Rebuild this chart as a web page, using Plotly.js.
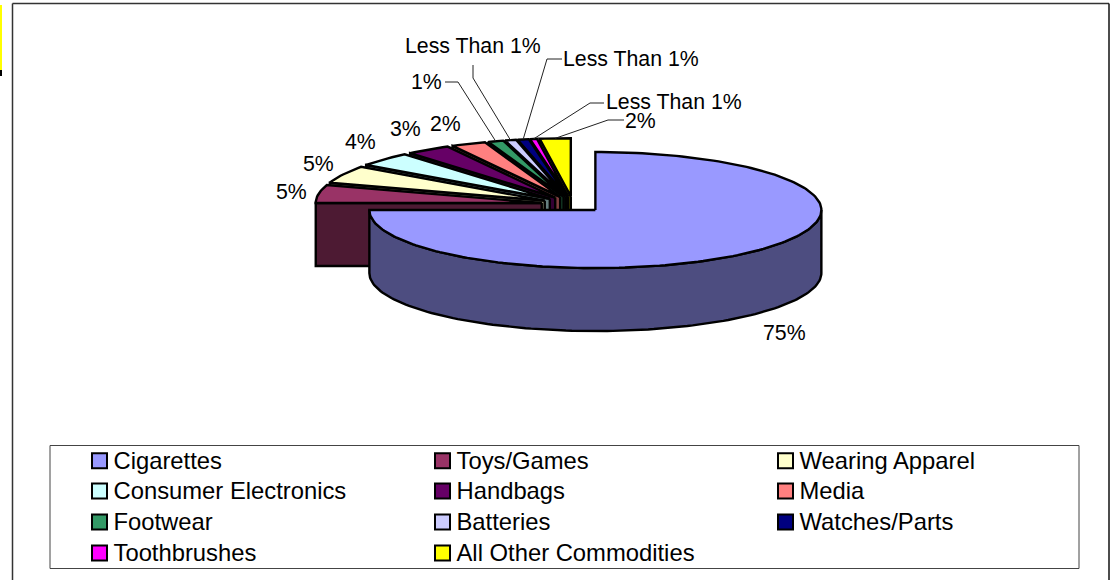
<!DOCTYPE html>
<html><head><meta charset="utf-8">
<script src="https://cdn.plot.ly/plotly-3.0.1.min.js"></script>
<style>html,body{margin:0;padding:0;background:#fff}</style></head>
<body><div id="chart" style="width:1113px;height:580px"></div>
<script>
const categories = ["Cigarettes","Toys/Games","Wearing Apparel","Consumer Electronics","Handbags","Media","Footwear","Batteries","Watches/Parts","Toothbrushes","All Other Commodities"];
const shares = [75,5,4.9,4,3.2,2.5,1.1,0.8,0.8,0.5,2.2];
const sliceLabels = ["75%","5%","5%","4%","3%","2%","1%","Less Than 1%","Less Than 1%","Less Than 1%","2%"];
const colors = ["#9999FF","#993366","#FFFFCC","#CCFFFF","#660066","#FF8080","#339966","#CCCCFF","#000080","#FF00FF","#FFFF00"];
const labelX = [784,291,318,360,405,445,426,473,631,674,640];
const labelY = [333,192,164,142,129,124,82,46,59,102,121];
const leaderElbows = {6:[[445,82],[458,82]],7:[[473,65],[473,78]],8:[[562,59],[547,59]],9:[[604,103],[590,103]],10:[[624,120],[608,120]]};
const legendColX = [99.5,442.5,785.5];
const legendRowY = [460.7,491,522,553];

const cx=573, cy=204.3, rx=226, ry=58, depth=63, explode=0.14;
const total = shares.reduce((a,b)=>a+b,0);
const rad = d=>d*Math.PI/180;
function darken(hex){const n=parseInt(hex.slice(1),16);
  return 'rgb('+[(n>>16)&255,(n>>8)&255,n&255].map(v=>Math.round(v/2)).join(',')+')';}
let acc=0;
const slices = shares.map((v,i)=>{const a0=acc/total*360; acc+=v; const a1=acc/total*360; const mid=(a0+a1)/2;
  return {i,a0,a1,mid,ax:cx+explode*rx*Math.sin(rad(mid)),ay:cy-explode*ry*Math.cos(rad(mid))};});
function rim(s,a,dz){return [s.ax+rx*Math.sin(rad(a)), s.ay-ry*Math.cos(rad(a))+(dz||0)];}
function arc(s,a0,a1,dz){const n=Math.max(2,Math.ceil(Math.abs(a1-a0)/1.5));const p=[];
  for(let k=0;k<=n;k++)p.push(rim(s,a0+(a1-a0)*k/n,dz));return p;}
const poly=(pts,fill)=>({type:'scatter',mode:'lines',x:pts.map(p=>p[0]),y:pts.map(p=>p[1]),fill:'toself',fillcolor:fill,
  line:{color:'#000',width:2.4,shape:'linear'},hoverinfo:'skip',showlegend:false});
const traces=[];
for(let i=slices.length-1;i>=1;i--){const s=slices[i];
  const A=[s.ax,s.ay],B=[s.ax,s.ay+depth],r=rim(s,s.a0),rb=rim(s,s.a0,depth);
  traces.push(poly([A,r,rb,B,A],darken(colors[i])));
  traces.push(poly([A,...arc(s,s.a0,s.a1),A],colors[i]));
}
const m=slices[0];
const wallPts=[...arc(m,90,270),...arc(m,270,90,depth)];
wallPts.push(wallPts[0]);
traces.push(poly(wallPts,darken(colors[0])));
traces.push(poly([[m.ax,m.ay],...arc(m,m.a0,m.a1),[m.ax,m.ay]],colors[0]));
Object.keys(leaderElbows).forEach(k=>{const s=slices[+k];const pts=[...leaderElbows[k],rim(s,s.mid)];
  traces.push({type:'scatter',mode:'lines',x:pts.map(p=>p[0]),y:pts.map(p=>p[1]),line:{color:'#222',width:1},hoverinfo:'skip',showlegend:false});});
categories.forEach((c,i)=>{const X=legendColX[i%3],Y=legendRowY[Math.floor(i/3)];
  traces.push({type:'scatter',mode:'markers',x:[X],y:[Y],name:c,
    marker:{symbol:'square',size:15,color:colors[i],line:{color:'#000',width:2}},hoverinfo:'skip',showlegend:false});
  traces.push({type:'scatter',mode:'text',x:[X+14],y:[Y+2],name:c,text:[c],textposition:'middle right',
    textfont:{family:'Liberation Sans, Arial, sans-serif',size:23.8,color:'#000'},hoverinfo:'skip',showlegend:false});
});

const annotations=sliceLabels.map((t,i)=>({x:labelX[i],y:labelY[i],xref:'x',yref:'y',text:t,showarrow:false,
  xanchor:'center',yanchor:'middle',font:{family:'Liberation Sans, Arial, sans-serif',size:21.3,color:'#000'}}));
const box=(x0,y0,x1,y1,col,w,fill)=>({type:'rect',xref:'x',yref:'y',x0,y0,x1,y1,line:{color:col,width:w},fillcolor:fill||'rgba(0,0,0,0)',layer:'below'});
const line=(x0,y0,x1,y1,col,w)=>({type:'line',xref:'x',yref:'y',x0,y0,x1,y1,line:{color:col,width:w},layer:'below'});
const shapes=[
  line(12.5,3.5,1109,3.5,'#333',1.5),line(12.5,3.5,12.5,580,'#333',1.5),line(1109,3.5,1109,580,'#111',1.5),
  box(50,445.5,1079,568.5,'#444',1),
  {type:'rect',xref:'x',yref:'y',x0:0,x1:2,y0:5,y1:70,fillcolor:'#FFFF00',line:{width:0},layer:'below'},
  {type:'rect',xref:'x',yref:'y',x0:0,x1:2,y0:70,y1:76,fillcolor:'#000',line:{width:0},layer:'below'}
];
const layout={width:1113,height:580,margin:{l:0,r:0,t:0,b:0},paper_bgcolor:'#fff',plot_bgcolor:'#fff',
  xaxis:{range:[0,1113],visible:false,fixedrange:true},yaxis:{range:[580,0],visible:false,fixedrange:true},
  annotations,shapes,showlegend:false};
Plotly.newPlot('chart',traces,layout,{displayModeBar:false});
</script></body></html>
